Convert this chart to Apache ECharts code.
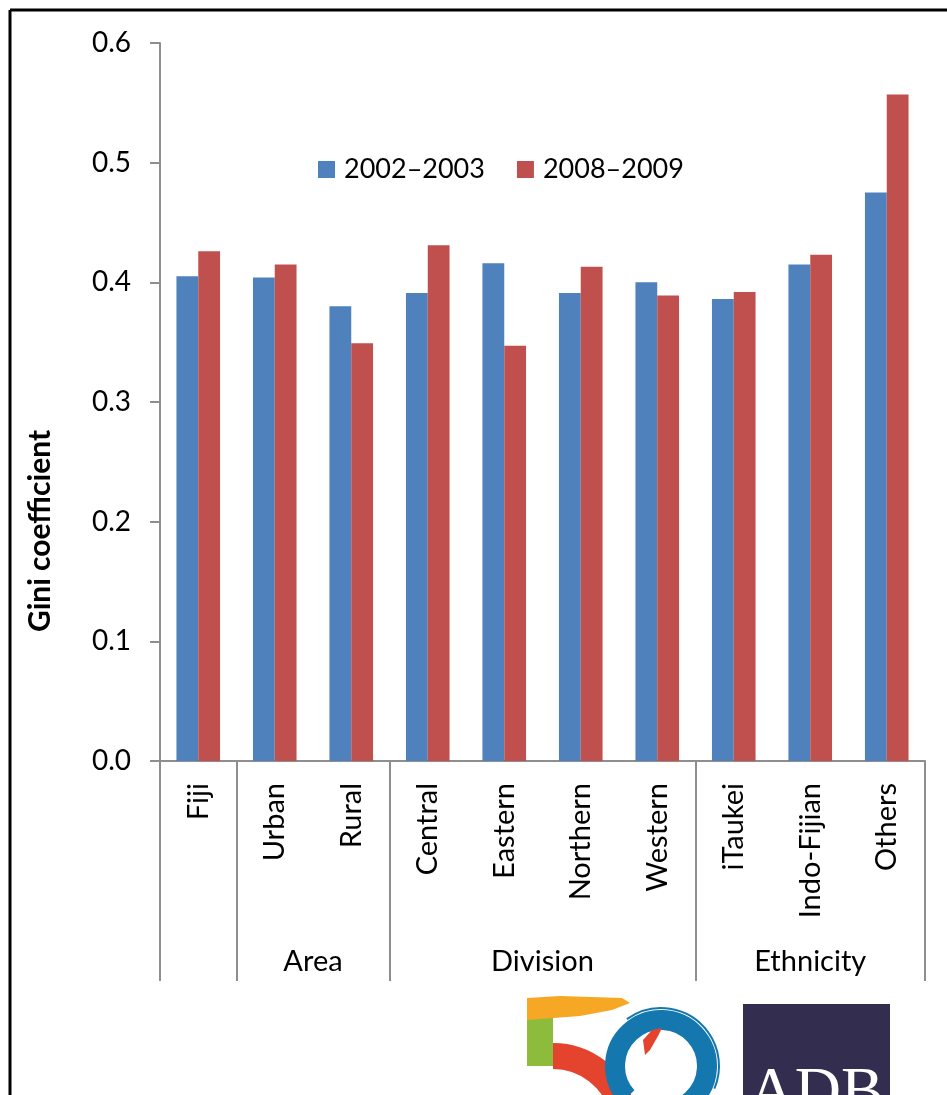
<!DOCTYPE html>
<html>
<head>
<meta charset="utf-8">
<script src="https://cdn.jsdelivr.net/npm/echarts@6/dist/echarts.min.js"></script>
<style>
  html, body { margin: 0; padding: 0; background: #fff; }
  #chart { width: 947px; height: 1095px; }
</style>
</head>
<body>
<div id="chart"></div>
<script>
// 类别与两期基尼系数
const categories = ['Fiji', 'Urban', 'Rural', 'Central', 'Eastern', 'Northern', 'Western', 'iTaukei', 'Indo-Fijian', 'Others'];
const gini2002 = [0.405, 0.404, 0.380, 0.391, 0.416, 0.391, 0.400, 0.386, 0.415, 0.475];
const gini2008 = [0.426, 0.415, 0.349, 0.431, 0.347, 0.413, 0.389, 0.392, 0.423, 0.557];
const seriesNames = ['2002–2003', '2008–2009'];

// 分组：边界按类别序号
const groupNames = ['Area', 'Division', 'Ethnicity'];
const groupBounds = [0, 1, 3, 7, 10];

const FONT = 'Lato';
const AXIS_GRAY = '#8e8e8e';

// 分组标签放在每组中点
const groupCenters = groupNames.map((n, i) => (groupBounds[i + 1] + groupBounds[i + 2]) / 2);

const chart = echarts.init(document.getElementById('chart'));

const option = {
  backgroundColor: '#fff',
  animation: false,
  textStyle: { fontFamily: FONT },
  grid: { left: 160, right: 22, top: 43, bottom: 334 },
  legend: {
    left: 318, top: 156, padding: 0,
    icon: 'rect', itemWidth: 17, itemHeight: 17, itemGap: 32,
    textStyle: { fontSize: 27, color: '#000', fontFamily: FONT, padding: [0, 0, 0, 4] },
    data: seriesNames
  },
  xAxis: [
    {
      type: 'category',
      data: categories,
      position: 'bottom',
      axisLine: { lineStyle: { color: AXIS_GRAY, width: 2 } },
      axisTick: { length: 160, lineStyle: { color: AXIS_GRAY, width: 2 } },
      axisLabel: { rotate: 90, margin: 22, fontSize: 29, color: '#000', fontFamily: FONT }
    },
    {
      type: 'value',
      min: 0, max: 10,
      position: 'bottom',
      axisLine: { show: false },
      splitLine: { show: false },
      axisTick: {
        show: true, length: 220,
        customValues: groupBounds,
        lineStyle: { color: AXIS_GRAY, width: 2 }
      },
      axisLabel: {
        margin: 186, fontSize: 29, color: '#000', fontFamily: FONT,
        customValues: groupCenters,
        formatter: v => groupNames[groupCenters.indexOf(v)] || ''
      }
    }
  ],
  yAxis: {
    type: 'value',
    min: 0, max: 0.6, interval: 0.1,
    axisLine: { show: true, lineStyle: { color: AXIS_GRAY, width: 2 } },
    axisTick: { show: true, length: 10, lineStyle: { color: AXIS_GRAY, width: 2 } },
    splitLine: { show: false },
    axisLabel: {
      margin: 29, fontSize: 28, color: '#000', fontFamily: FONT,
      formatter: v => v.toFixed(1)
    }
  },
  series: [
    {
      name: seriesNames[0], type: 'bar', data: gini2002,
      barGap: '0%', barCategoryGap: '43%',
      itemStyle: { color: '#4f81bd' }
    },
    {
      name: seriesNames[1], type: 'bar', data: gini2008,
      barGap: '0%', barCategoryGap: '43%',
      itemStyle: { color: '#c0504d' }
    }
  ],
  graphic: [
    // 边框（上、左）
    { type: 'line', shape: { x1: 10, y1: 10, x2: 947, y2: 10 }, style: { stroke: '#000', lineWidth: 3 } },
    { type: 'line', shape: { x1: 10, y1: 10, x2: 10, y2: 1095 }, style: { stroke: '#000', lineWidth: 3 } },
    // 纵轴名称
    {
      type: 'text', x: 40, y: 531, rotation: Math.PI / 2,
      style: {
        text: 'Gini coefficient', fontSize: 30, fontWeight: 'bold', fontFamily: FONT,
        fill: '#000', align: 'center', verticalAlign: 'middle'
      }
    },
    // ADB 50 标志（近似）
    {
      type: 'arc', shape: { cx: 553, cy: 1128, r: 72, startAngle: -Math.PI / 2, endAngle: -0.25 },
      style: { stroke: '#e4432d', lineWidth: 26, fill: null }
    },
    { type: 'rect', shape: { x: 527, y: 1014, width: 26, height: 52 }, style: { fill: '#8dbb3b' } },
    {
      type: 'polygon',
      shape: { points: [[527, 998], [560, 996], [622, 998], [630, 1003], [612, 1010], [580, 1016], [527, 1020]] },
      style: { fill: '#f6a724' }
    },
    {
      type: 'arc', shape: { cx: 661, cy: 1066, r: 46, startAngle: 2.4, endAngle: 2.4 + Math.PI * 2 - 0.35 },
      style: { stroke: '#1478ae', lineWidth: 20, fill: null }
    },
    {
      type: 'arc', shape: { cx: 661, cy: 1066, r: 58, startAngle: -2.2, endAngle: 0.4 },
      style: { stroke: '#1478ae', lineWidth: 2, fill: null }
    },
    {
      type: 'polygon',
      shape: { points: [[643, 1040], [652, 1030], [662, 1028], [658, 1036], [650, 1050], [645, 1055]] },
      style: { fill: '#e4432d' }
    },
    { type: 'rect', shape: { x: 743, y: 1004, width: 147, height: 95 }, style: { fill: '#332e4f' } },
    {
      type: 'text', x: 816, y: 1062,
      style: {
        text: 'ADB', fontSize: 64, fontFamily: 'Liberation Serif', fill: '#fff',
        align: 'center', verticalAlign: 'top'
      }
    }
  ]
};

chart.setOption(option);

window.addEventListener('resize', () => chart.resize());
</script>
</body>
</html>
